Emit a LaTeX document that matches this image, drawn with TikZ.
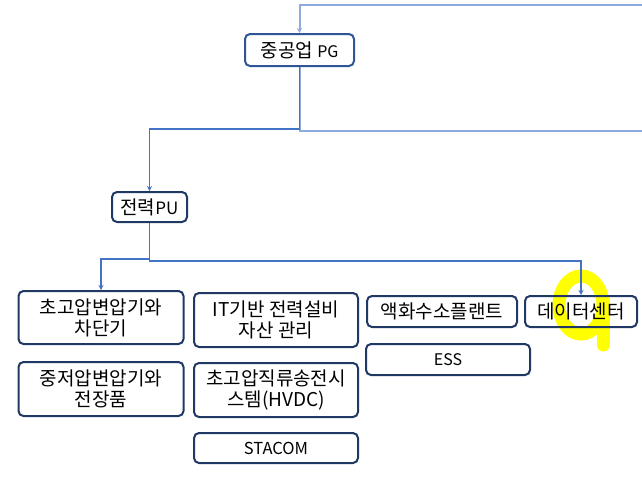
\documentclass[tikz,border=0pt]{standalone}
\usepackage{fontspec}
\setmainfont{Noto Sans CJK KR}
\usetikzlibrary{arrows.meta,calc}
\definecolor{navy}{HTML}{1F3864}
\definecolor{midnavy}{HTML}{2F5597}
\definecolor{conncol}{HTML}{4472C4}
\definecolor{lightconn}{HTML}{8FAADC}
\definecolor{hilite}{HTML}{FFFF00}
\begin{document}
\begin{tikzpicture}[x=1pt,y=-1pt,
  box/.style={draw=navy,line width=2pt,rounded corners=5pt,fill=white,align=center,
    inner sep=0pt,font=\fontsize{19}{21}\selectfont},
  conn/.style={draw=conncol,line width=1.1pt,-{Stealth[length=5pt,width=5pt]}},
  plain/.style={draw=conncol,line width=1.1pt},
  light/.style={draw=lightconn,line width=2pt}]
\useasboundingbox (0,0) rectangle (642,480);
% highlight mark
\draw[hilite,line width=13pt] (581,305) ellipse [x radius=22, y radius=29];
\draw[hilite,line width=13pt,line cap=round] (603,300) -- (603,345);
% nodes
\node[box,draw=midnavy,minimum width=109pt,minimum height=32pt] (PG) at (299.5,50) {중공업 {\fontsize{16}{18}\selectfont PG}};
\node[box,minimum width=75pt,minimum height=30pt] (PU) at (149.5,207) {전력{\fontsize{17}{18}\selectfont PU}};
\node[box,minimum width=165pt,minimum height=53pt] (B1) at (101,317.5) {초고압변압기와\\차단기};
\node[box,minimum width=165pt,minimum height=54pt] (B2) at (101,389) {중저압변압기와\\전장품};
\node[box,minimum width=164pt,minimum height=54pt] (B3) at (276,320) {IT기반 전력설비\\자산 관리};
\node[box,minimum width=164pt,minimum height=54pt] (B4) at (276,390) {초고압직류송전시\\스템(HVDC)};
\node[box,minimum width=164pt,minimum height=30pt,font=\fontsize{16.5}{18}\selectfont] (B5) at (276,448) {STACOM};
\node[box,minimum width=150pt,minimum height=31pt] (B6) at (442,311.5) {액화수소플랜트};
\node[box,minimum width=112pt,minimum height=31pt,fill=none] (B7) at (581,311.5) {데이터센터};
\node[box,minimum width=164pt,minimum height=31pt,font=\fontsize{16}{18}\selectfont] (B8) at (448,359.5) {ESS};
% connectors
\coordinate (inTop) at (642,5);
\coordinate (outRight) at (642,131);
\draw[light,-{Stealth[length=5pt,width=5pt]}] (inTop) -| (PG.north);
\draw[light] (PG.south) |- (outRight);
\draw[conn] (PG.south) -- ++(0,62) -| (PU.north);
\draw[conn] (PU.south) -- ++(0,36) -| (B1.north);
\draw[conn] (PU.south) -- ++(0,38) -| (B7.north);
\end{tikzpicture}
\end{document}
